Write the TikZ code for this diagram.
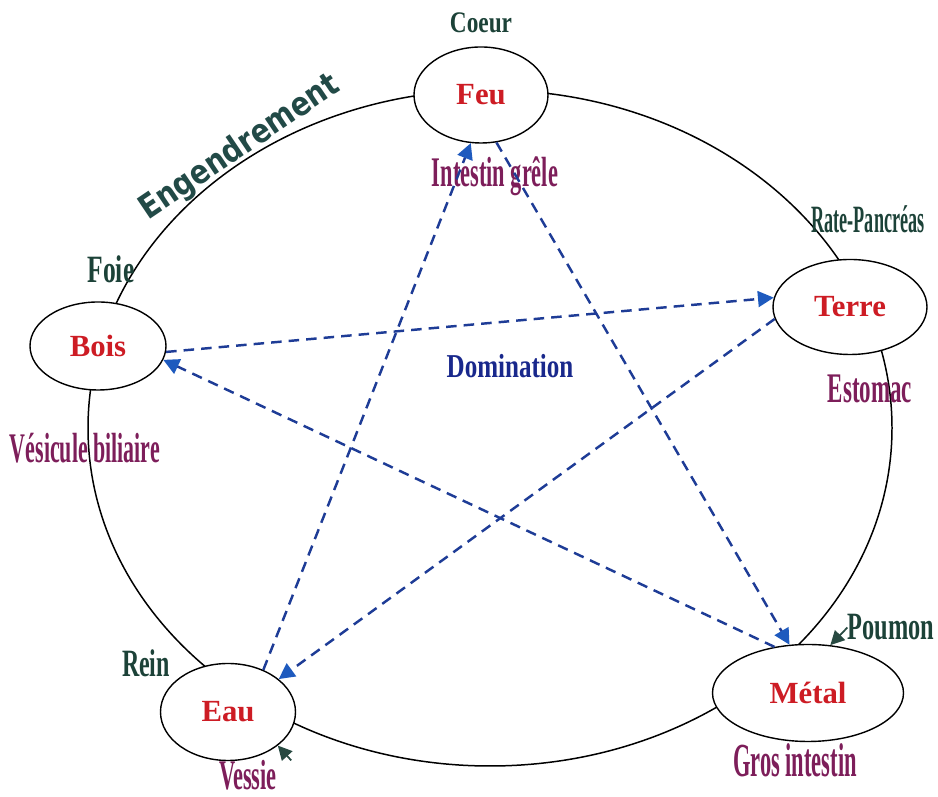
\documentclass[tikz,border=0pt]{standalone}
\usepackage{graphicx}
\usepackage{fontspec}
\setmainfont{Liberation Serif}
\newfontfamily\engfont[FakeStretch=0.85]{DejaVu Sans}
\usetikzlibrary{shapes.geometric,arrows.meta}
\definecolor{elemred}{RGB}{205,28,36}
\definecolor{yincol}{RGB}{28,66,56}
\definecolor{yangcol}{RGB}{125,30,90}
\definecolor{engcol}{RGB}{34,74,71}
\definecolor{domblue}{RGB}{25,40,140}
\definecolor{ctrlblue}{RGB}{30,60,150}
\definecolor{tipblue}{RGB}{30,90,190}
\definecolor{ptrgreen}{RGB}{40,74,66}
\newcommand{\orgtxt}[2]{\scalebox{#1}[1]{#2}}

\begin{document}
\begin{tikzpicture}[
    element/.style={ellipse, draw, line width=0.8pt, fill=white, inner sep=0pt,
      text=elemred, font=\bfseries\fontsize{17.5}{18}\selectfont},
    yin/.style={anchor=base, inner sep=0pt, text=yincol, font=\bfseries\fontsize{22}{22}\selectfont},
    yang/.style={anchor=base, inner sep=0pt, text=yangcol, font=\bfseries\fontsize{24}{24}\selectfont},
    control/.style={draw=ctrlblue, line width=1.4pt, dash pattern=on 6pt off 4pt,
      -{Triangle[length=9pt,width=9pt,color=tipblue]}},
    pointer/.style={draw=ptrgreen, line width=1pt, -{Triangle[length=8pt,width=8pt]}}
  ]
  \useasboundingbox (0,0) rectangle (18.76,15.94);

  %%%%% cycle %%%%%
  \draw[line width=0.85pt] (9.8,7.38) ellipse (8.04 and 6.76);

  \node[element, minimum width=2.68cm, minimum height=1.92cm] (feu)   at (9.62,14.04) {Feu};
  \node[element, minimum width=3.08cm, minimum height=1.9cm]  (terre) at (17.0,9.8)   {Terre};
  \node[element, minimum width=2.72cm, minimum height=1.76cm] (bois)  at (1.96,9.02)  {Bois};
  \node[element, minimum width=2.7cm,  minimum height=1.94cm] (eau)   at (4.56,1.7)   {Eau};
  \node[element, minimum width=3.82cm, minimum height=1.94cm] (metal) at (16.16,2.08) {Métal};

  %%%%% organs %%%%%
  \node[yin, font=\bfseries\fontsize{17}{17}\selectfont] (coeur) at (9.62,15.28) {\orgtxt{0.78}{Coeur}};
  \node[yang] (intestin) at (9.9,12.2)  {\orgtxt{0.53}{Intestin grêle}};
  \node[yin]  (rate)     at (17.36,11.28) {\orgtxt{0.47}{Rate-Pancréas}};
  \node[yang] (estomac)  at (17.4,7.88) {\orgtxt{0.545}{Estomac}};
  \node[yin]  (foie)     at (2.22,10.28) {\orgtxt{0.66}{Foie}};
  \node[yang] (vesicule) at (1.7,6.68)  {\orgtxt{0.52}{Vésicule biliaire}};
  \node[yin]  (rein)     at (2.92,2.4)  {\orgtxt{0.62}{Rein}};
  \node[yang] (vessie)   at (4.96,0.14) {\orgtxt{0.53}{Vessie}};
  \node[yin]  (poumon)   at (17.82,3.14) {\orgtxt{0.63}{Poumon}};
  \node[yang, font=\bfseries\fontsize{27}{27}\selectfont] (gros) at (15.9,0.4) {\orgtxt{0.474}{Gros intestin}};

  \draw[pointer] (poumon.west) -- (metal.65);
  \draw[pointer] ([xshift=8pt]vessie.north east) -- (eau.-34);

  %%%%% titles %%%%%
  \node[rotate=34, text=engcol, font=\engfont\bfseries\fontsize{18.8}{19}\selectfont] (engendrement) at (4.8,12.98) {Engendrement};
  \node[anchor=base, text=domblue, font=\bfseries\fontsize{19}{19}\selectfont] (domination) at (10.2,8.38) {\orgtxt{0.75}{Domination}};

  %%%%% domination %%%%%
  \draw[control] (bois.355)  -- (terre.173);
  \draw[control] (terre.189) -- (eau.33);
  \draw[control] (eau.50)    -- (feu.258);
  \draw[control] (feu.288)   -- (metal.111);
  \draw[control] (metal.126) -- (bois.348);
\end{tikzpicture}
\end{document}
